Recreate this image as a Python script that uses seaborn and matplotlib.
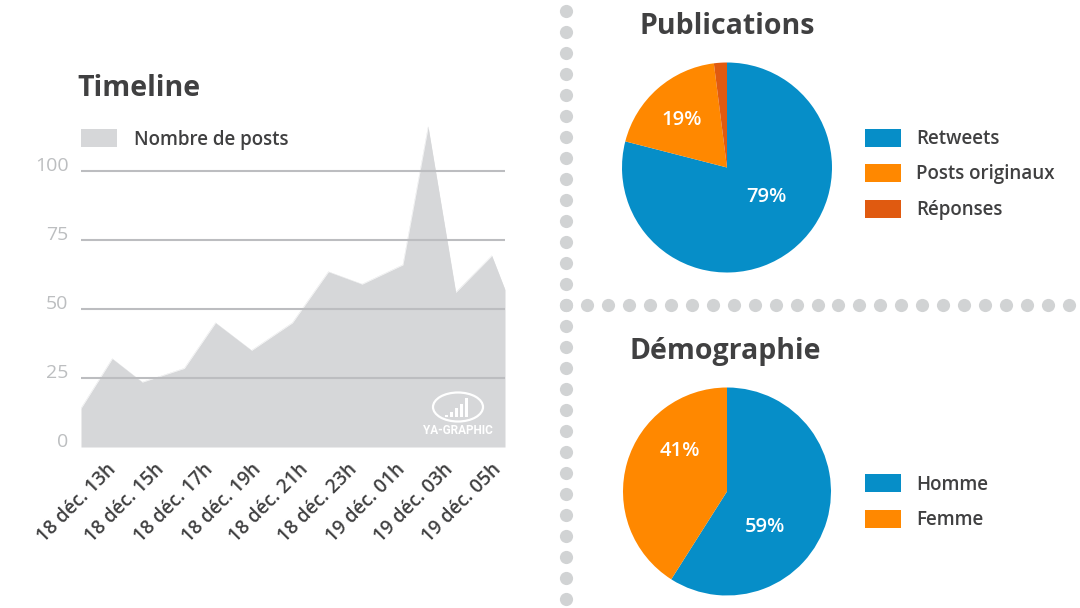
import numpy as np
import pandas as pd
import seaborn as sns
import matplotlib
matplotlib.use("Agg")
import matplotlib.pyplot as plt
from matplotlib.patches import Rectangle, Ellipse
from matplotlib.transforms import ScaledTranslation

# ---- data ----
hours = [11.6, 12.9, 14.15, 15.9, 17.2, 18.7, 20.4, 21.9, 23.3, 25.0, 26.05, 27.2, 28.7, 29.25]
posts = [14, 32, 23.5, 28.5, 45, 35, 45, 63.5, 59, 66, 116, 56, 69.3, 57]
tick_hours = [13, 15, 17, 19, 21, 23, 25, 27, 29]
tick_labels = ["18 déc. 13h", "18 déc. 15h", "18 déc. 17h", "18 déc. 19h", "18 déc. 21h",
               "18 déc. 23h", "19 déc. 01h", "19 déc. 03h", "19 déc. 05h"]
y_ticks = [0, 25, 50, 75, 100]
pub_labels = ["Retweets", "Posts originaux", "Réponses"]
pub_values = [79, 19, 2]
demo_labels = ["Homme", "Femme"]
demo_values = [59, 41]

# ---- style ----
W, H = 1080, 608
BLUE, ORANGE, RUST = "#068ec8", "#ff8800", "#e05a10"
GREY, GRID, DOT, TXT, YT = "#d6d7d9", "#bcbdc0", "#d1d3d4", "#404041", "#bcbec0"
sns.set_theme(style="white", rc={"font.family": "Open Sans", "axes.unicode_minus": False})
fig = plt.figure(figsize=(W / 100, H / 100), dpi=100, facecolor="white")

def rect(l, t, r, b):
    return [l / W, 1 - b / H, (r - l) / W, (b - t) / H]

def shift(dx, dy):
    # offset in screen pixels (dy positive = downwards)
    return ScaledTranslation(dx / 100, -dy / 100, fig.dpi_scale_trans)

# overlay in pixel coordinates
ov = fig.add_axes([0, 0, 1, 1], zorder=5)
ov.set_xlim(0, W); ov.set_ylim(H, 0); ov.axis("off"); ov.patch.set_alpha(0)

# ---- timeline ----
ax = fig.add_axes(rect(81, 116.6, 505, 447))
df = pd.DataFrame({"h": hours, "n": posts})
ax.fill_between(df["h"], df["n"], 0, color=GREY, lw=0, zorder=1)
sns.lineplot(data=df, x="h", y="n", ax=ax, color=GREY, lw=0.2, zorder=1, errorbar=None, sort=False)
ax.set_xlim(hours[0], hours[-1])
ax.set_ylim(0, 119.7)
ax.set_xlabel(""); ax.set_ylabel("")
ax.set_yticks(y_ticks)
ax.set_yticklabels(y_ticks, color=YT, fontsize=14)
ax.tick_params(axis="y", length=0, pad=9)
for v in y_ticks[1:]:
    ax.axhline(v, color=GRID, lw=1.5, zorder=2)
for lab in ax.get_yticklabels():
    lab.set_va("center")
    lab.set_transform(lab.get_transform() + shift(0, -5))
ax.set_xticks(tick_hours)
ax.set_xticklabels(tick_labels, rotation=45, ha="right", rotation_mode="anchor",
                   color=TXT, fontsize=13.7, fontweight=600)
ax.tick_params(axis="x", length=0, pad=9)
for lab in ax.get_xticklabels():
    lab.set_transform(lab.get_transform() + shift(-8, 0))
sns.despine(ax=ax, left=True, bottom=True, top=True, right=True)
ax.patch.set_alpha(0)

# ---- pies ----
def pie(cx, cy, r, values, colors, texts):
    a = fig.add_axes(rect(cx - r, cy - r, cx + r, cy + r))
    a.pie(values, colors=colors, startangle=90, counterclock=False, radius=1,
          wedgeprops={"linewidth": 0})
    a.set_xlim(-1, 1); a.set_ylim(-1, 1)
    for (tx, ty), s in texts:
        a.text(tx, ty, s, color="white", fontsize=14.5, fontweight=600, ha="center", va="center")

pie(727, 167.5, 105, pub_values, [BLUE, ORANGE, RUST],
    [((0.38, -0.28), f"{pub_values[0]}%"), ((-0.43, 0.45), f"{pub_values[1]}%")])
pie(727, 491.5, 104, demo_values, [BLUE, ORANGE],
    [((0.37, -0.34), f"{demo_values[0]}%"), ((-0.45, 0.39), f"{demo_values[1]}%")])

# ---- titles ----
def T(x, y, s, **k):
    ov.text(x, y, s, color=TXT, va="center", **k)
T(77, 88, "Timeline", fontsize=20.5, fontweight=700)
T(639, 27, "Publications", fontsize=20.5, fontweight=700)
T(629, 351, "Démographie", fontsize=20.5, fontweight=700)

# ---- legends ----
def leg(y, color, s, xr=865, xt=916, w=36, h=18):
    ov.add_patch(Rectangle((xr, y - h / 2), w, h, color=color, lw=0))
    T(xt, y + 1.5, s, fontsize=13.5, fontweight=600)
leg(138, GREY, "Nombre de posts", xr=81, xt=134)
for y, c, s in zip([137.5, 173, 208.5], [BLUE, ORANGE, RUST], pub_labels):
    leg(y, c, s)
for y, c, s in zip([483, 518.5], [BLUE, ORANGE], demo_labels):
    leg(y, c, s)

# ---- dotted separators ----
ov.scatter(np.full(29, 566), 11 + 21 * np.arange(29), s=90, color=DOT, lw=0, zorder=1)
ov.scatter(566 + 20.96 * np.arange(25), np.full(25, 305), s=90, color=DOT, lw=0, zorder=1)

# ---- watermark ----
ov.add_patch(Ellipse((458, 407), 50, 29, fill=False, ec="white", lw=1.6))
for i, bh in enumerate([2, 5, 9, 13, 19]):
    ov.add_patch(Rectangle((445 + i * 5, 417 - bh), 3.4, bh, color="white", lw=0))
ov.text(458, 430.5, "YA-GRAPHIC", color="white", fontsize=8.5, fontweight=700,
        ha="center", va="center", family="Roboto")

fig.savefig("out.png", dpi=100, facecolor="white")
